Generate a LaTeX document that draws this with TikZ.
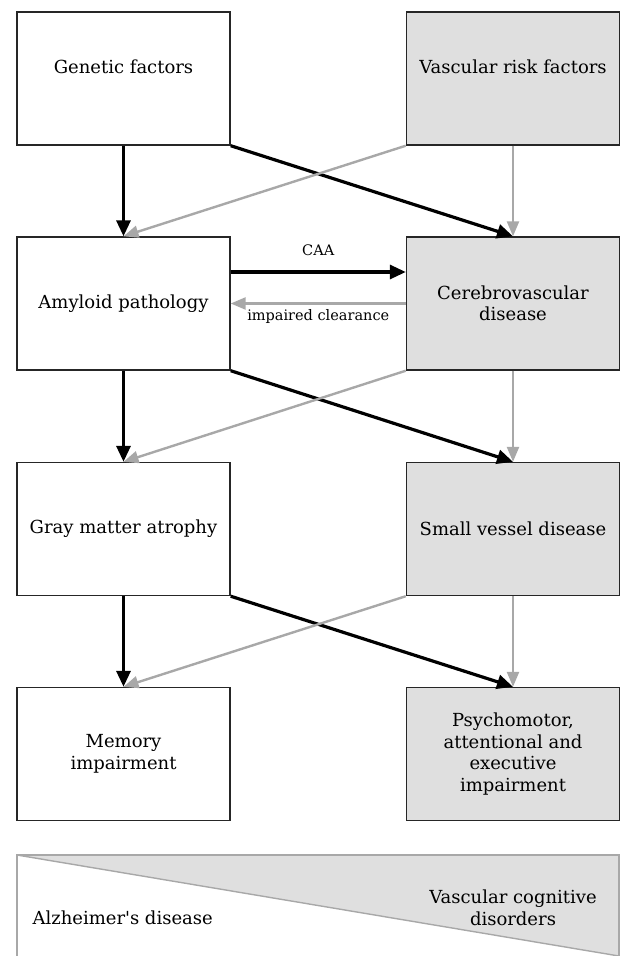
\documentclass[tikz,border=0pt]{standalone}
\usepackage{fontspec}
\setmainfont{DejaVu Serif}
\usetikzlibrary{arrows.meta}
\definecolor{boxgray}{HTML}{DFDFDF}
\definecolor{arrgray}{HTML}{A8A8A8}
\tikzset{
  box/.style={draw=black!85, line width=1.4pt, minimum width=213pt, minimum height=133pt,
    align=center, font=\fontsize{18}{21.5}\selectfont, inner sep=2pt},
  vbox/.style={box, fill=boxgray},
  blk/.style={line width=3.2pt, -{Triangle[length=16pt,width=14pt]}},
  gry/.style={draw=arrgray, line width=2.4pt, -{Triangle[length=15pt,width=12pt]}},
  lbl/.style={font=\fontsize{14.5}{17}\selectfont}
}
\begin{document}
\begin{tikzpicture}[x=1pt,y=-1pt]
\useasboundingbox (0,0) rectangle (621,956);
\clip (0,0) rectangle (621,956);
\node[box, text depth=24pt] (gen) at (123.5,78.5){Genetic factors};
\node[vbox, text depth=24pt] (vrf) at (513,78.5){Vascular risk factors};
\node[box] (amy) at (123.5,303.5){Amyloid pathology};
\node[vbox] (cer) at (513,303.5){Cerebrovascular\\disease};
\node[box] (gma) at (123.5,529){Gray matter atrophy};
\node[vbox] (svd) at (513,529){Small vessel disease};
\node[box] (mem) at (123.5,754){Memory\\impairment};
\node[vbox] (psy) at (513,754){Psychomotor,\\attentional and\\executive\\impairment};
\draw[blk](gen.south) -- (amy.north);
\draw[blk](gen.south east) -- (cer.north);
\draw[gry](vrf.south west) -- (amy.north);
\draw[gry](vrf.south) -- (cer.north);
\draw[blk]([yshift=31.5pt]amy.east) -- node[lbl, above=11pt]{CAA} ([yshift=31.5pt]cer.west);
\draw[gry](cer.west) -- node[lbl, below=1pt]{impaired clearance} (amy.east);
\draw[blk](amy.south) -- (gma.north);
\draw[blk](amy.south east) -- (svd.north);
\draw[gry](cer.south west) -- (gma.north);
\draw[gry](cer.south) -- (svd.north);
\draw[blk](gma.south) -- (mem.north);
\draw[blk](gma.south east) -- (psy.north);
\draw[gry](svd.south west) -- (mem.north);
\draw[gry](svd.south) -- (psy.north);
% spectrum bar
\coordinate (bar0) at (17,855);
\coordinate (bar1) at (619,956);
\fill[boxgray] (bar0) -- (bar0 -| bar1) -- (bar1) -- cycle;
\draw[arrgray, line width=1.4pt] (bar0) -- (bar1);
\draw[arrgray, line width=1.4pt] (bar0) rectangle (619,962);
\node[anchor=west, font=\fontsize{18}{21.5}\selectfont] (ad) at (29,918){Alzheimer\textquotesingle s disease};
\node[align=center, font=\fontsize{18}{22}\selectfont] (vcd) at (513,908){Vascular cognitive\\disorders};
\end{tikzpicture}
\end{document}
